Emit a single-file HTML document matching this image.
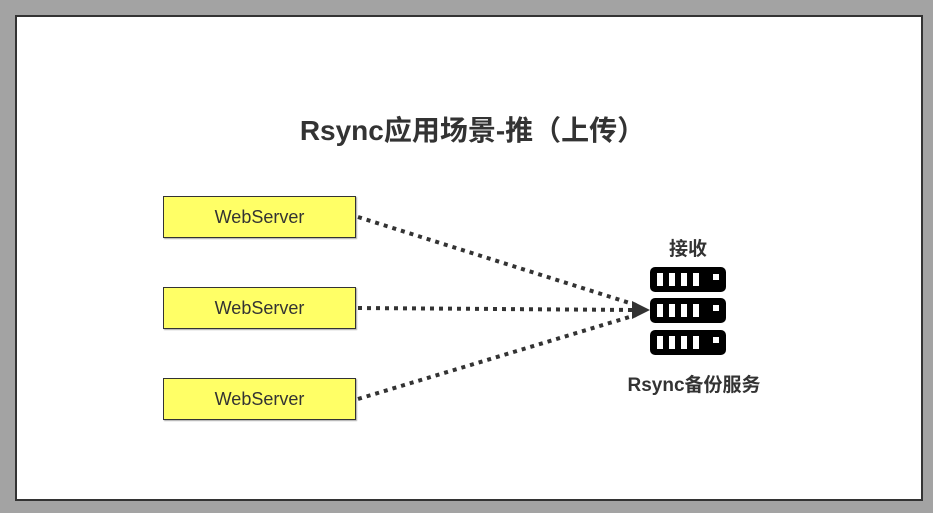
<!DOCTYPE html>
<html><head><meta charset="utf-8"><style>
body{margin:0;width:933px;height:513px;background:#a3a3a3;overflow:hidden;font-family:"Liberation Sans","Noto Sans CJK SC",sans-serif}
#f{position:absolute;left:15px;top:15px;width:904px;height:482px;background:#fff;border:2px solid #333}
.b{position:absolute;left:163px;width:191px;height:40px;background:#ffff66;border:1px solid #333;box-shadow:1px 1px 1px #aaa;text-align:center;line-height:40px;font-size:18px;color:#333}
.t{position:absolute;font-weight:bold;color:#333;text-align:center}
</style></head><body>
<div id="f"></div>
<div class="t" style="left:6px;width:933px;top:109px;font-size:28px">Rsync应用场景-推（上传）</div>
<div class="b" style="top:196px">WebServer</div>
<div class="b" style="top:287px">WebServer</div>
<div class="b" style="top:378px">WebServer</div>
<div class="t" style="left:638px;width:100px;top:234px;font-size:19px">接收</div>
<div class="t" style="left:594px;width:200px;top:370px;font-size:19px">Rsync备份服务</div>
<svg width="933" height="513" style="position:absolute;left:0;top:0">
<g stroke="#333" stroke-width="4" stroke-dasharray="4 5" fill="none">
<line x1="358" y1="217" x2="636" y2="305"/>
<line x1="358" y1="308" x2="636" y2="310"/>
<line x1="358" y1="399" x2="636" y2="315"/>
</g>
<polygon points="650,310 632,301 632,319" fill="#333"/>
<g fill="#000">
<rect x="650" y="267" width="76" height="25" rx="5"/>
<rect x="650" y="298" width="76" height="25" rx="5"/>
<rect x="650" y="330" width="76" height="25" rx="5"/>
</g>
<g fill="#fff">
<g id="s"><rect x="657" y="273" width="6" height="13"/><rect x="669" y="273" width="6" height="13"/><rect x="681" y="273" width="6" height="13"/><rect x="693" y="273" width="6" height="13"/><rect x="713" y="274" width="6" height="6"/></g>
<use href="#s" y="31"/><use href="#s" y="63"/>
</g>
</svg>
</body></html>
